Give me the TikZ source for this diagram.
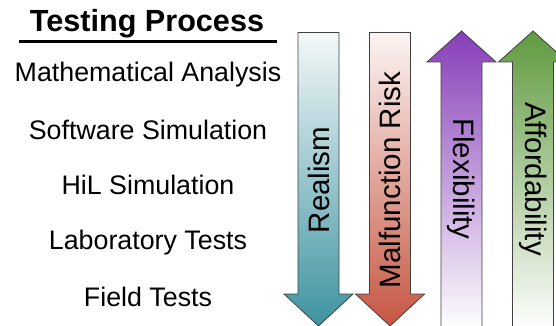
\documentclass[tikz,border=0pt]{standalone}
\usepackage{fontspec}
\setmainfont{Liberation Sans}
\definecolor{realismcol}{RGB}{62,147,161}
\definecolor{riskcol}{RGB}{198,86,66}
\definecolor{flexcol}{RGB}{134,62,184}
\definecolor{affordcol}{RGB}{96,154,64}
\begin{document}
\begin{tikzpicture}[x=1pt,y=-1pt,
  stage/.style={inner sep=0pt,outer sep=0pt,anchor=base,font=\fontsize{26.8}{32}\selectfont},
  quality/.style={inner sep=0pt,outer sep=0pt,font=\fontsize{29.5}{35}\selectfont},
  bigarrow/.style={draw=black!75,line width=0.8pt}]
\clip (0,0) rectangle (556,326);
% testing stages
\node[stage,font=\bfseries\fontsize{30.6}{36}\selectfont] (title) at (147,32) {Testing Process};
\draw[line width=3pt] (19,41.5) -- (277,41.5);
\node[stage] (mathan) at (148,82) {Mathematical Analysis};
\node[stage] (swsim) at (148,139) {Software Simulation};
\node[stage] (hilsim) at (148,194) {HiL Simulation};
\node[stage] (labtest) at (148,249) {Laboratory Tests};
\node[stage] (fieldtest) at (148,306) {Field Tests};
% downward arrows
\shadedraw[bigarrow,top color=realismcol!6,bottom color=realismcol] (298,32.5) -- (339,32.5) -- (339,294) -- (353,294) -- (318.5,326) -- (284,294) -- (298,294) -- cycle;
\shadedraw[bigarrow,top color=riskcol!6,bottom color=riskcol] (369.5,32.5) -- (410.5,32.5) -- (410.5,294) -- (424.5,294) -- (390,326) -- (355.5,294) -- (369.5,294) -- cycle;
% upward arrows
\shadedraw[bigarrow,top color=flexcol,bottom color=white] (441,330) -- (441,62) -- (427,62) -- (461.5,31) -- (496,62) -- (482,62) -- (482,330) -- cycle;
\shadedraw[bigarrow,top color=affordcol,bottom color=white] (512.5,330) -- (512.5,62) -- (498.5,62) -- (533,31) -- (567.5,62) -- (553.5,62) -- (553.5,330) -- cycle;
% arrow labels
\node[quality,rotate=90] (realism) at (318.5,180) {Realism};
\node[quality,rotate=90] (risk) at (390,180) {Malfunction Risk};
\node[quality,rotate=-90] (flex) at (461.5,179) {Flexibility};
\node[quality,rotate=-90] (afford) at (533,179) {Affordability};
\end{tikzpicture}
\end{document}
